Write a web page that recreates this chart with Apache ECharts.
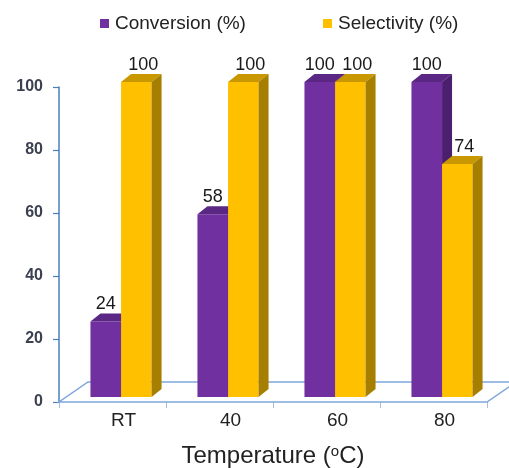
<!DOCTYPE html>
<html>
<head>
<meta charset="utf-8">
<script src="https://cdn.jsdelivr.net/npm/echarts@6/dist/echarts.min.js"></script>
<style>html,body{margin:0;padding:0;background:#fff;}#c{width:509px;height:468px;}</style>
</head>
<body>
<div id="c"></div>
<script>
var categories = ['RT', '40', '60', '80'];
var conversion = [24, 58, 100, 100];
var selectivity = [100, 100, 100, 74];
var seriesNames = ['Conversion (%)', 'Selectivity (%)'];
var yTicks = [0, 20, 40, 60, 80, 100];

var FONT = '"Liberation Sans", Arial, sans-serif';
var DEPTH_X = 10, DEPTH_Y = -8, LIFT = 5;

function barRenderer(startFrac, endFrac, cFront, cTop, cSide, labelDx) {
  return function (params, api) {
    var cat = api.value(0), v = api.value(1);
    var base = api.coord([cat, 0]);
    var tp = api.coord([cat, v]);
    var bw = api.size([1, 0])[0];
    var x0 = base[0] + startFrac * bw, x1 = base[0] + endFrac * bw;
    var yb = base[1] - LIFT, yt = tp[1] - LIFT;
    return {
      type: 'group',
      children: [
        { type: 'rect', shape: { x: x0, y: yt, width: x1 - x0, height: yb - yt }, style: { fill: cFront } },
        { type: 'polygon', shape: { points: [[x0, yt], [x1, yt], [x1 + DEPTH_X, yt + DEPTH_Y], [x0 + DEPTH_X, yt + DEPTH_Y]] }, style: { fill: cTop } },
        { type: 'polygon', shape: { points: [[x1, yt], [x1 + DEPTH_X, yt + DEPTH_Y], [x1 + DEPTH_X, yb + DEPTH_Y], [x1, yb]] }, style: { fill: cSide } },
        { type: 'text', style: { text: String(v), x: (x0 + x1) / 2 + labelDx, y: yt - 8, align: 'center', verticalAlign: 'bottom', fontSize: 18, fontFamily: FONT, fill: '#1a1a1a' } }
      ]
    };
  };
}

function floorRenderer(params, api) {
  var cs = params.coordSys;
  var yb = cs.y + cs.height, xl = cs.x, xr = cs.x + cs.width;
  var dx = 29, dy = -20;
  return {
    type: 'polygon',
    shape: { points: [[xl, yb], [xr, yb], [xr + dx, yb + dy], [xl + dx, yb + dy]] },
    style: { fill: 'none', stroke: '#7fa6dc', lineWidth: 1.5 }
  };
}

var chart = echarts.init(document.getElementById('c'), null, { renderer: 'canvas' });
chart.setOption({
  animation: false,
  backgroundColor: '#fff',
  grid: { left: 59, right: 22, top: 87, bottom: 66, containLabel: false, outerBoundsMode: 'none' },
  legend: [
    { left: 100, top: 14, padding: 0, itemWidth: 9, itemHeight: 9, itemGap: 10, data: [{ name: seriesNames[0], icon: 'rect' }],
      textStyle: { fontSize: 19, fontFamily: FONT, color: '#222', padding: [0, 0, 0, 1] } },
    { left: 323, top: 14, padding: 0, itemWidth: 9, itemHeight: 9, itemGap: 10, data: [{ name: seriesNames[1], icon: 'rect' }],
      textStyle: { fontSize: 19, fontFamily: FONT, color: '#222', padding: [0, 0, 0, 1] } }
  ],
  xAxis: {
    type: 'category',
    data: categories,
    boundaryGap: true,
    axisLine: { show: false },
    axisTick: { show: true, length: 6, lineStyle: { color: '#a9bfdf' } },
    axisLabel: { fontSize: 19, fontFamily: FONT, color: '#222', margin: 9, padding: [0, 0, 0, 22] },
    name: '{a|Temperature (}{s|o}{a|C)}',
    nameLocation: 'middle',
    nameGap: 42,
    nameTextStyle: {
      rich: {
        a: { fontSize: 24, fontFamily: FONT, color: '#222' },
        s: { fontSize: 15, fontFamily: FONT, color: '#222', verticalAlign: 'top', padding: [0, 0, 9, 0] }
      }
    }
  },
  yAxis: {
    type: 'value',
    min: yTicks[0],
    max: yTicks[yTicks.length - 1],
    interval: yTicks[1] - yTicks[0],
    axisLine: { show: true, lineStyle: { color: '#4a7ebb', width: 1.5 } },
    axisTick: { show: true, length: 6, lineStyle: { color: '#4a7ebb', width: 1.2 } },
    splitLine: { show: false },
    axisLabel: { fontSize: 16, fontWeight: 'bold', fontFamily: FONT, color: '#3b4150', margin: 16 }
  },
  series: [
    { type: 'custom', name: 'floor', silent: true, z: 1, renderItem: floorRenderer, data: [[0, 0]] },
    { type: 'custom', name: seriesNames[0], z: 2, itemStyle: { color: '#7030A0' },
      renderItem: barRenderer(-0.206, 0.08, '#7030A0', '#5a2785', '#4a1f6e', 0),
      data: conversion.map(function (v, i) { return [i, v]; }) },
    { type: 'custom', name: seriesNames[1], z: 3, itemStyle: { color: '#FFC000' },
      renderItem: barRenderer(0.08, 0.365, '#FFC000', '#c99800', '#a67e00', 7),
      data: selectivity.map(function (v, i) { return [i, v]; }) }
  ]
});
</script>
</body>
</html>
